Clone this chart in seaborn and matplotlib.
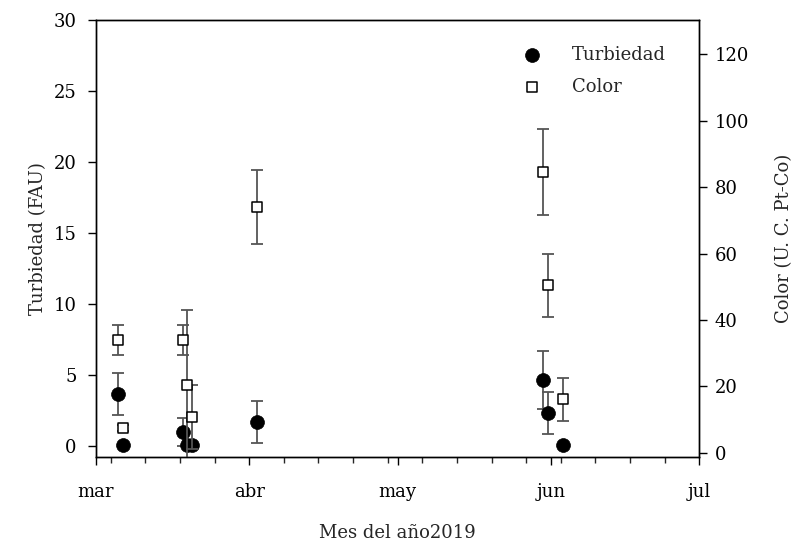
import pandas as pd
import numpy as np
import matplotlib
matplotlib.use("Agg")
import matplotlib.pyplot as plt
import matplotlib.dates as mdates
import seaborn as sns

# ---- data ----
dates = ["2019-03-05 12:00", "2019-03-06 12:00", "2019-03-18 12:00",
         "2019-03-19 12:00", "2019-03-20 12:00", "2019-04-02 12:00",
         "2019-05-30 12:00", "2019-05-31 12:00", "2019-06-03 12:00"]
turbiedad = [3.66, 0.05, 0.99, 0.05, 0.05, 1.69, 4.65, 2.32, 0.05]
turbiedad_err = [1.48, 0.0, 1.0, 0.0, 0.0, 1.5, 2.05, 1.5, 0.0]
color = [34.0, 7.5, 34.0, 20.5, 10.8, 74.0, 84.5, 50.5, 16.2]
color_err = [4.5, 1.0, 4.5, 22.5, 9.7, 11.2, 12.9, 9.5, 6.5]
month_labels = ["mar", "abr", "may", "jun", "jul"]

df = pd.DataFrame({"fecha": pd.to_datetime(dates),
                   "Turbiedad": turbiedad, "t_err": turbiedad_err,
                   "Color": color, "c_err": color_err})

sns.set_style("ticks")
plt.rcParams["font.family"] = ["DejaVu Serif"]
plt.rcParams["font.size"] = 11

fig = plt.figure(figsize=(8.0, 5.44), dpi=100)
ax = fig.add_axes([0.12, 0.160, 0.754, 0.803])
ax2 = ax.twinx()

ecol = "#555555"
ax.errorbar(df["fecha"], df["Turbiedad"], yerr=df["t_err"], fmt="none",
            ecolor=ecol, elinewidth=1.3, capsize=4, capthick=1.3, zorder=2)
ax2.errorbar(df["fecha"], df["Color"], yerr=df["c_err"], fmt="none",
             ecolor=ecol, elinewidth=1.3, capsize=4, capthick=1.3, zorder=2)

sns.scatterplot(data=df, x="fecha", y="Turbiedad", ax=ax, marker="o",
                s=100, color="black", edgecolor="black", linewidth=0.5,
                zorder=3, label="Turbiedad", legend=False)
sns.scatterplot(data=df, x="fecha", y="Color", ax=ax2, marker="s",
                s=60, facecolor="white", edgecolor="black", linewidth=1.1,
                zorder=3, label="Color", legend=False)

ax.set_xlim(pd.Timestamp("2019-03-01"), pd.Timestamp("2019-07-01"))
ax.set_ylim(-0.78, 30)
ax2.set_ylim(-1.2, 130.2)
ax.set_yticks(np.arange(0, 31, 5))
ax2.set_yticks(np.arange(0, 121, 20))

ax.xaxis.set_major_locator(mdates.MonthLocator())
ax.xaxis.set_major_formatter(plt.FuncFormatter(
    lambda v, p: month_labels[mdates.num2date(v).month - 3]
    if 0 <= mdates.num2date(v).month - 3 < len(month_labels) else ""))
ax.xaxis.set_minor_locator(mdates.WeekdayLocator(byweekday=mdates.MO))

for a in (ax, ax2):
    for s in a.spines.values():
        s.set_linewidth(1.0)
        s.set_color("black")
    a.tick_params(which="major", direction="out", length=6, width=1.0,
                  colors="black", labelsize=13)
    a.tick_params(which="minor", direction="out", length=4, width=1.0)
ax.tick_params(axis="x", which="major", pad=13)
ax.tick_params(axis="y", which="major", pad=8)
ax2.tick_params(axis="y", which="major", pad=5)

ax.set_xlabel("Mes del año2019", fontsize=13, labelpad=16)
ax.set_ylabel("Turbiedad (FAU)", fontsize=13, labelpad=5)
ax2.set_ylabel("Color (U. C. Pt-Co)", fontsize=13, labelpad=19)

h1, l1 = ax.get_legend_handles_labels()
h2, l2 = ax2.get_legend_handles_labels()
ax2.legend(h1 + h2, l1 + l2, loc="upper right", frameon=False,
           fontsize=13, handletextpad=1.2, borderaxespad=0.6,
           labelspacing=0.8, bbox_to_anchor=(0.975, 0.983))

fig.savefig("out.png", dpi=100)
